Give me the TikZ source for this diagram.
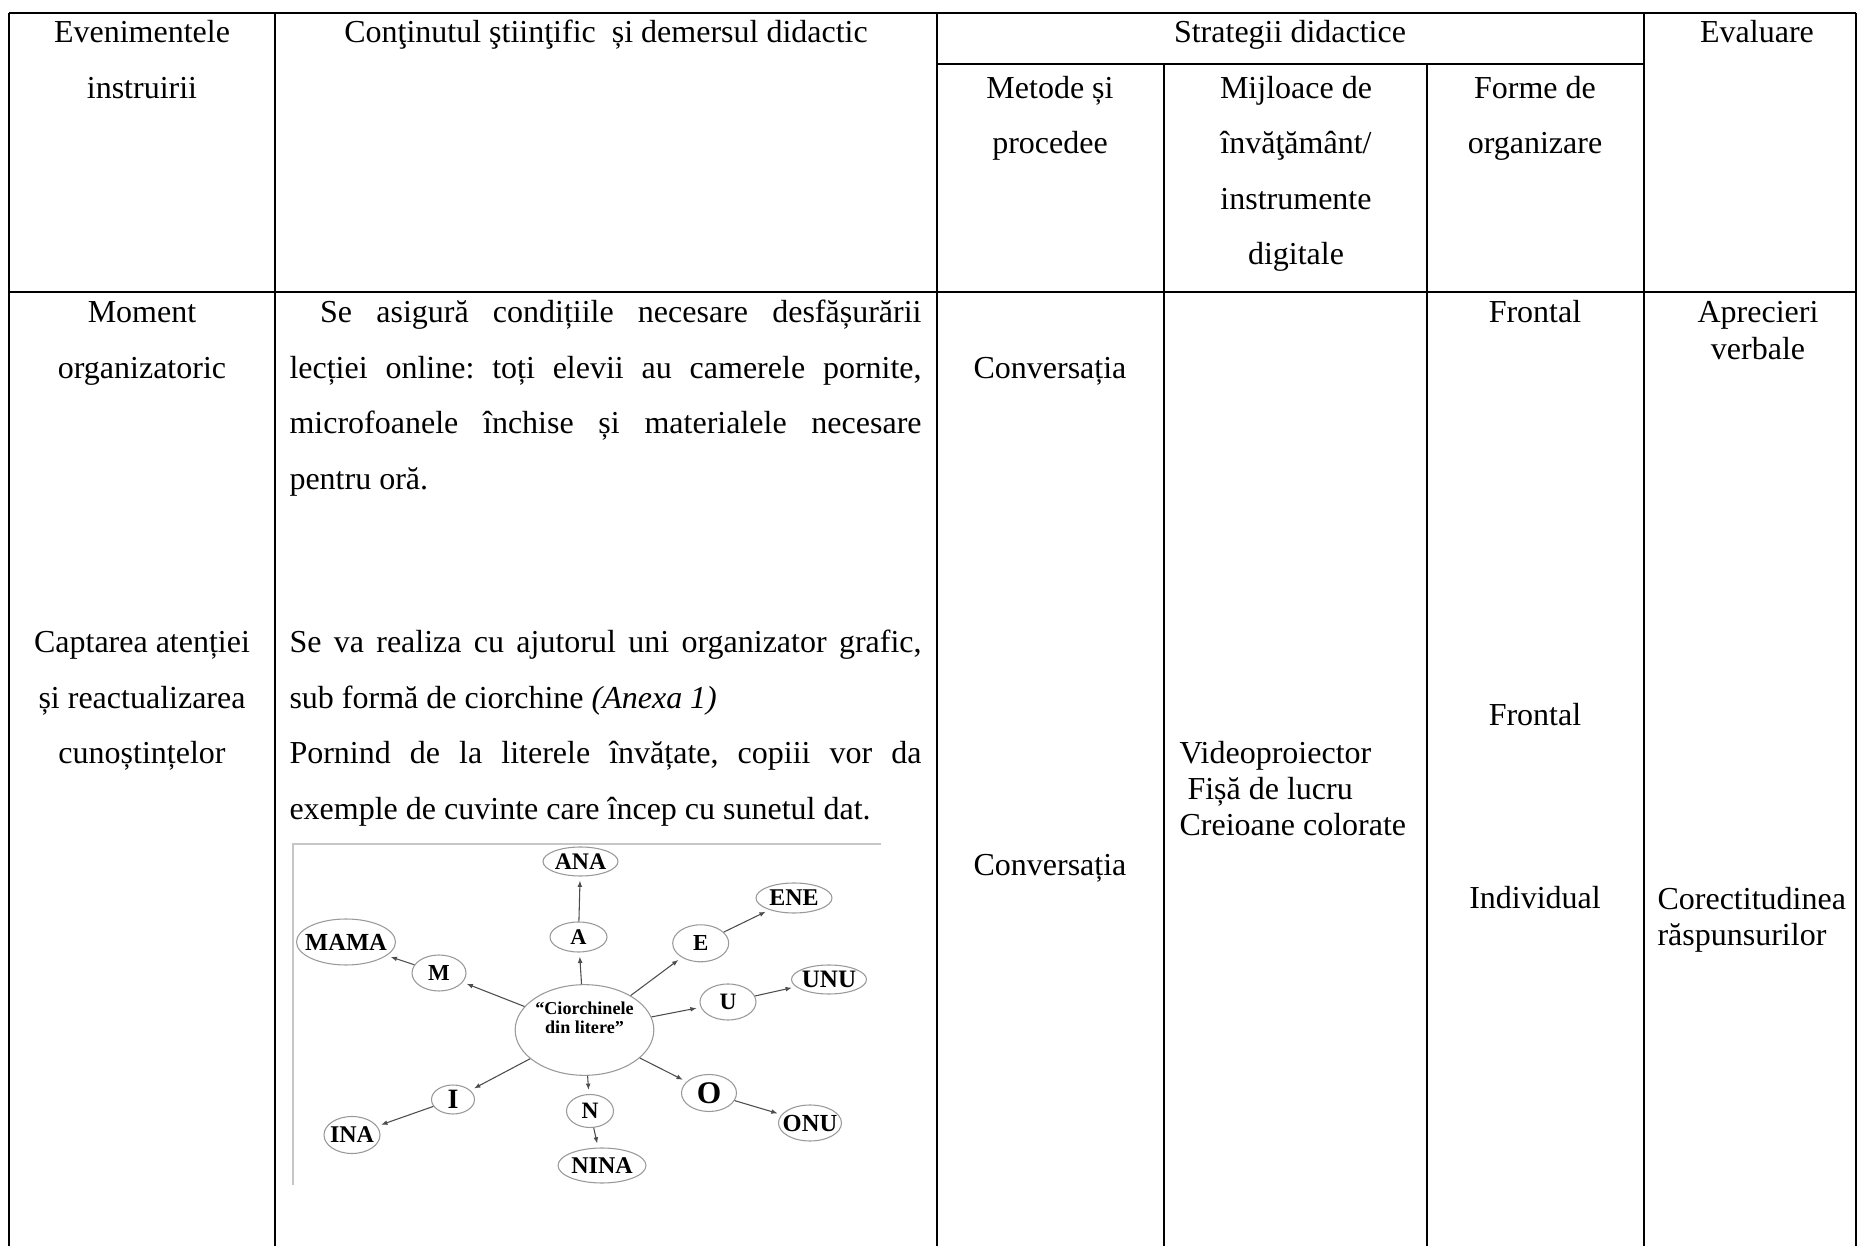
\documentclass[tikz,border=0pt]{standalone}
\usepackage{fontspec}
\setmainfont{Liberation Serif}
\usetikzlibrary{arrows.meta,shapes.geometric}
\frenchspacing

\tikzset{
  cell/.style={anchor=base, inner sep=0pt, font=\fontsize{12}{14}\selectfont},
  cellw/.style={cell, anchor=base west},
  para/.style={anchor=base west, inner sep=0pt, text width=237pt, align=justify,
    font=\fontsize{12}{20.8}\selectfont},
  rule/.style={line width=0.6pt},
  bigrule/.style={line width=1.1pt},
  bubble/.style={ellipse, draw=gray!80, line width=0.4pt, inner xsep=-2.5pt, inner ysep=-0.5pt},
  link/.style={gray!60!black, line width=0.4pt, -{Latex[length=2.4pt,width=1.8pt]}, shorten >=1.5pt},
}

\begin{document}
\begin{tikzpicture}[x=0.375pt, y=-0.375pt]
\useasboundingbox (0,0) rectangle (1864,1246);

			% Grid of the table
			\draw[bigrule] (9,13) -- (1856,13);
			\draw[bigrule] (9,292) -- (1856,292);
			\draw[rule] (937,64) -- (1644,64);
			\foreach \x in {9,275,937,1644,1856} {
					\draw[rule] (\x,13) -- (\x,1246);
				}
			\foreach \x in {1164,1427} {
					\draw[rule] (\x,64) -- (\x,1246);
				}

			% Header cells
			\foreach \x/\y/\txt [count=\k] in {
					142/43/Evenimentele,
					142/98.5/instruirii,
					606/43/{Conţinutul ştiinţific\ \ și demersul didactic},
					1290/43/Strategii didactice,
					1757/43/Evaluare,
					1050/98.5/Metode și,
					1050/154/procedee,
					1296/98.5/Mijloace de,
					1296/154/{învăţământ/},
					1296/209.5/instrumente,
					1296/265/digitale,
					1535/98.5/Forme de,
					1535/154/organizare
				} {
					\node[cell] (hd\k) at (\x,\y) {\txt};
				}

			% Body cells, centred
			\foreach \x/\y/\txt [count=\k] in {
					142/323/Moment,
					142/378.5/organizatoric,
					142/653/Captarea atenției,
					142/708.5/și reactualizarea,
					142/764/cunoștințelor,
					1050/378.5/Conversația,
					1050/876/Conversația,
					1535/323/Frontal,
					1535/726/Frontal,
					1535/909/Individual,
					1758/323/Aprecieri,
					1758/359.5/verbale
				} {
					\node[cell] (bd\k) at (\x,\y) {\txt};
				}

			% Body cells, left aligned
			\foreach \x/\y/\txt [count=\k] in {
					1179/764/Videoproiector,
					1187/800/Fișă de lucru,
					1179/836/Creioane colorate,
					1657/910/Corectitudinea,
					1657/945/răspunsurilor
				} {
					\node[cellw] (lf\k) at (\x,\y) {\txt};
				}

			% Justified text of the second column
			\node[para] (par1) at (289,323) {\hspace*{11.5pt}Se asigură condițiile necesare desfășurării\linebreak
				lecției online: toți elevii au camerele pornite,\linebreak
				microfoanele închise și materialele necesare\linebreak
				pentru oră.};
			\node[para] (par2) at (289,653) {Se va realiza cu ajutorul uni organizator grafic,\linebreak
				sub formă de ciorchine \textit{(Anexa 1)}};
			\node[para] (par3) at (289,764) {Pornind de la literele învățate, copiii vor da\linebreak
				exemple de cuvinte care încep cu sunetul dat.};

			% Frame of the cluster picture
			\draw[gray!45, line width=0.6pt] (293,1185) -- (293,844) -- (881,844);

			% Cluster: centre, letters and words
			\node[bubble, minimum width=52pt, minimum height=34pt, align=center,
				font=\bfseries\fontsize{6.8}{7}\selectfont] (ctr) at (584.5,1030) {“Ciorchinele\\din litere”\\[2pt]};
			\foreach \id/\x/\y/\w/\h/\fs/\txt in {
					a/578.5/937/57/30/8.4/A,
					ana/580.5/861.5/75/29/8.9/ANA,
					e/700.7/943.3/56/37/8.6/E,
					ene/794/898/76/30/9/ENE,
					u/728/1002/56/36/8.8/U,
					unu/829/979.5/75/29/9.4/UNU,
					o/709/1093/55/37/11.8/O,
					onu/810/1123/63/36/9.2/ONU,
					n/590/1111/47/33/8.8/N,
					nina/602/1165.5/88/35/9/NINA,
					i/453/1099.5/43/29/10.5/I,
					ina/352/1135/56/37/9/INA,
					m/439/973/54/36/8.6/M,
					mama/346/942/99/46/9.2/MAMA
				} {
					\node[bubble, minimum width=\w*0.375pt, minimum height=\h*0.375pt,
						font=\bfseries\fontsize{\fs}{\fs}\selectfont] (\id) at (\x,\y) {\txt};
				}
			\foreach \from/\to in {ctr/a, a/ana, ctr/e, e/ene, ctr/u, u/unu, ctr/o, o/onu,
					ctr/n, n/nina, ctr/i, i/ina, ctr/m, m/mama} {
					\draw[link] (\from) -- (\to);
				}

\end{tikzpicture}
\end{document}
